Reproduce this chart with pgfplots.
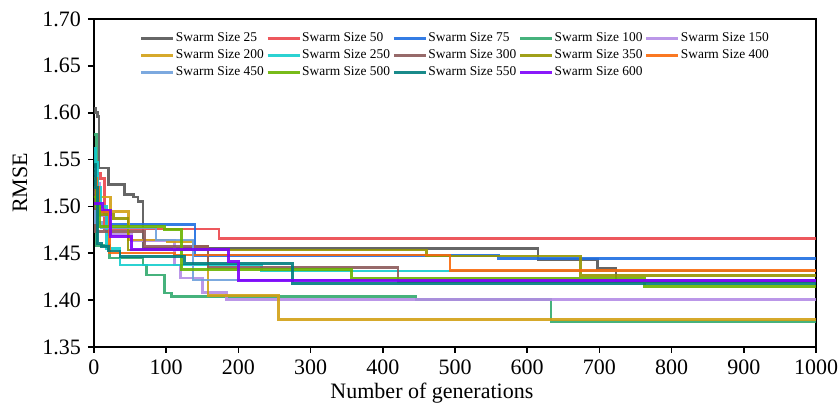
\documentclass[border=0pt]{standalone}
\usepackage{fontspec}
\setmainfont{Liberation Serif}
\usepackage{pgfplots}
\pgfplotsset{compat=1.18}

\definecolor{c25}{RGB}{85,85,85}
\definecolor{c50}{RGB}{235,70,75}
\definecolor{c75}{RGB}{30,110,225}
\definecolor{c100}{RGB}{50,170,110}
\definecolor{c150}{RGB}{180,140,230}
\definecolor{c200}{RGB}{210,160,20}
\definecolor{c250}{RGB}{20,205,205}
\definecolor{c300}{RGB}{140,90,90}
\definecolor{c350}{RGB}{150,150,0}
\definecolor{c400}{RGB}{250,105,10}
\definecolor{c450}{RGB}{110,160,220}
\definecolor{c500}{RGB}{105,180,0}
\definecolor{c550}{RGB}{0,125,125}
\definecolor{c600}{RGB}{125,0,250}

\begin{document}
\begin{tikzpicture}
\begin{axis}[name=ax, scale only axis, width=361pt, height=164pt,
  xmin=0, xmax=1000, ymin=1.35, ymax=1.70,
  xtick={0,100,200,300,400,500,600,700,800,900,1000},
  ytick={1.35,1.40,1.45,1.50,1.55,1.60,1.65,1.70},
  xticklabel style={/pgf/number format/.cd, 1000 sep={}},
  yticklabel style={/pgf/number format/.cd, fixed, fixed zerofill, precision=2},
  /pgf/number format/assume math mode=true,
  tick label style={font=\fontsize{11}{13}\selectfont},
  label style={font=\fontsize{11}{13}\selectfont},
  tick align=outside, xtick pos=bottom, ytick pos=left,
  major tick length=3pt,
  axis line style={line width=0.8pt},
  tick style={line width=0.8pt, black},
  xlabel={Number of generations}, ylabel={RMSE},
  xlabel style={at={(axis description cs:0.468,-0.14)}, anchor=center},
  ylabel style={at={(axis description cs:-0.1025,0.5)}, anchor=center},
  legend columns=5,
  legend cell align=left,
  legend style={at={(axis description cs:0.0637,0.962)}, anchor=north west,
    draw=none, fill=none, inner sep=0pt, outer sep=0pt,
    font=\fontsize{6.7}{8}\selectfont,
    nodes={inner sep=0.6pt, anchor=west},
    row sep=1.4pt,
    /tikz/every even column/.append style={column sep=0.6pt}},
  legend image code/.code={\draw[#1] (0pt,0pt) -- (16pt,0pt);},
  every axis plot/.append style={const plot, line width=1.4pt, opacity=0.9},
]
\addplot[c25] coordinates {(0,1.605) (2,1.600) (5,1.596) (7,1.541) (20,1.523) (42,1.513) (55,1.510) (61,1.505) (68,1.455) (615,1.443) (697,1.434) (723,1.421) (1000,1.421)};
\addlegendentry{Swarm Size 25}
\addplot[c50] coordinates {(0,1.535) (9,1.530) (14,1.476) (173,1.466) (1000,1.466)};
\addlegendentry{Swarm Size 50}
\addplot[c75] coordinates {(0,1.515) (5,1.495) (19,1.481) (140,1.448) (560,1.4446) (1000,1.4446)};
\addlegendentry{Swarm Size 75}
\addplot[c100] coordinates {(0,1.577) (3,1.458) (22,1.445) (68,1.4375) (73,1.4268) (98,1.4076) (107,1.4036) (446,1.4005) (633,1.377) (1000,1.377)};
\addlegendentry{Swarm Size 100}
\addplot[c150] coordinates {(0,1.540) (3,1.525) (8,1.490) (20,1.470) (52,1.464) (112,1.4375) (120,1.4236) (150,1.4079) (184,1.4004) (1000,1.4004)};
\addlegendentry{Swarm Size 150}
\addplot[c200] coordinates {(0,1.530) (5,1.510) (23,1.4944) (48,1.4641) (102,1.4623) (137,1.457) (158,1.4047) (255,1.3795) (1000,1.3795)};
\addlegendentry{Swarm Size 200}
\addplot[c250] coordinates {(0,1.562) (2,1.547) (5,1.520) (9,1.500) (17,1.455) (36,1.4375) (232,1.4311) (1000,1.4311)};
\addlegendentry{Swarm Size 250}
\addplot[c300] coordinates {(0,1.520) (1,1.510) (2,1.473) (70,1.457) (158,1.435) (421,1.4196) (1000,1.4196)};
\addlegendentry{Swarm Size 300}
\addplot[c350] coordinates {(0,1.520) (3,1.500) (8,1.491) (27,1.4873) (47,1.4535) (461,1.447) (674,1.426) (1000,1.426)};
\addlegendentry{Swarm Size 350}
\addplot[c400] coordinates {(0,1.530) (4,1.520) (6,1.4944) (22,1.4502) (112,1.4481) (493,1.432) (1000,1.432)};
\addlegendentry{Swarm Size 400}
\addplot[c450] coordinates {(0,1.495) (2,1.483) (10,1.477) (86,1.4641) (137,1.4215) (1000,1.4215)};
\addlegendentry{Swarm Size 450}
\addplot[c500] coordinates {(0,1.510) (3,1.500) (8,1.4783) (98,1.4756) (121,1.4329) (357,1.4233) (762,1.4143) (1000,1.4143)};
\addlegendentry{Swarm Size 500}
\addplot[c550] coordinates {(0,1.545) (2,1.520) (5,1.4606) (10,1.457) (20,1.4524) (36,1.4463) (125,1.4393) (275,1.418) (1000,1.418)};
\addlegendentry{Swarm Size 550}
\addplot[c600] coordinates {(0,1.5034) (12,1.4962) (23,1.4677) (52,1.4542) (186,1.441) (200,1.4207) (1000,1.4207)};
\addlegendentry{Swarm Size 600}
\end{axis}
\pgfresetboundingbox
\path[use as bounding box] ([xshift=-47pt,yshift=-28.5pt]ax.south west) rectangle ([xshift=11.5pt,yshift=9.5pt]ax.north east);
\end{tikzpicture}
\end{document}
